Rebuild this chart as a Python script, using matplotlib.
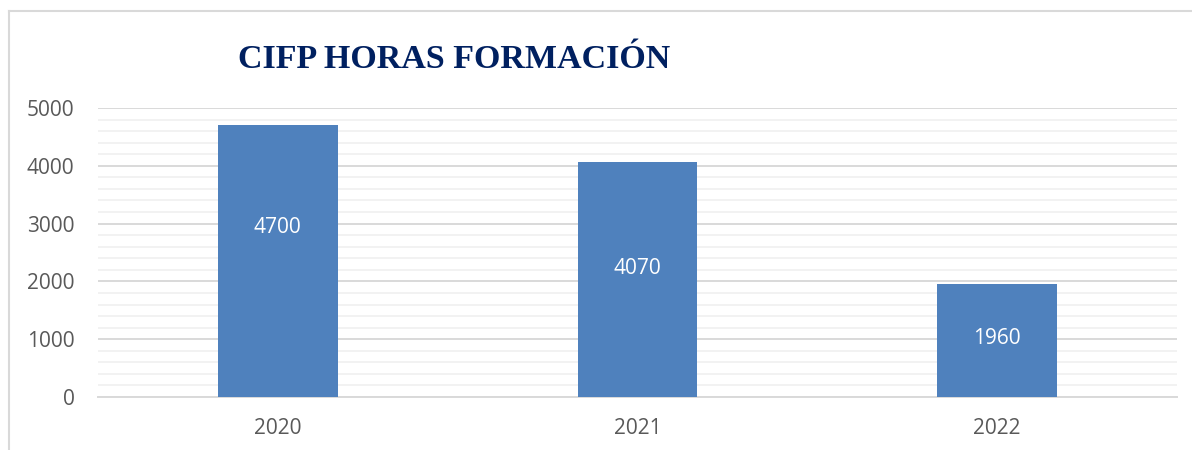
import matplotlib
matplotlib.use("Agg")
from matplotlib import pyplot as plt
from matplotlib.lines import Line2D
from matplotlib.ticker import MultipleLocator

years = ["2020", "2021", "2022"]
hours = [4700, 4070, 1960]
# where Excel put the value labels inside each bar
label_y = [2940, 2215, 1005]

plt.rcParams["font.family"] = ["Open Sans", "DejaVu Sans"]

fig = plt.figure(figsize=(11.92, 4.5), dpi=100)
ax = fig.add_axes([98 / 1192, 53 / 450, 1079 / 1192, 289 / 450])

x = range(len(years))
ax.bar(x, hours, width=0.333, color="#4F81BD", zorder=3)
for i, (v, ly) in enumerate(zip(hours, label_y)):
    ax.text(i, ly, str(v), ha="center", va="center", color="white", fontsize=15, zorder=4)

ax.set_xlim(-0.5, 2.5)
ax.set_ylim(0, 5000)
ax.set_xticks(list(x))
ax.set_xticklabels(years)
ax.yaxis.set_major_locator(MultipleLocator(1000))
ax.yaxis.set_minor_locator(MultipleLocator(200))
ax.grid(which="major", axis="y", color="#D9D9D9", linewidth=1.4, zorder=1)
ax.grid(which="minor", axis="y", color="#F2F2F2", linewidth=1.4, zorder=0)
for s in ["top", "right", "left"]:
    ax.spines[s].set_visible(False)
ax.spines["bottom"].set_color("#D9D9D9")
ax.spines["bottom"].set_linewidth(1.4)
ax.tick_params(axis="both", which="both", length=0, colors="#595959", labelsize=15)
ax.tick_params(axis="x", pad=15)
ax.tick_params(axis="y", pad=17)

fig.text(454 / 1192, 1 - 68 / 450, "CIFP HORAS FORMACIÓN", ha="center", va="baseline",
         fontsize=24.5, fontweight="bold", color="#002060", family="Liberation Serif")

# chart frame, only the top-left corner shows in the crop
fig.add_artist(Line2D([9 / 1192, 9 / 1192], [0, 1 - 11 / 450], transform=fig.transFigure,
                      color="#D9D9D9", linewidth=1.5))
fig.add_artist(Line2D([9 / 1192, 1], [1 - 11 / 450, 1 - 11 / 450], transform=fig.transFigure,
                      color="#D9D9D9", linewidth=1.5))

fig.savefig("out.png", dpi=100)
